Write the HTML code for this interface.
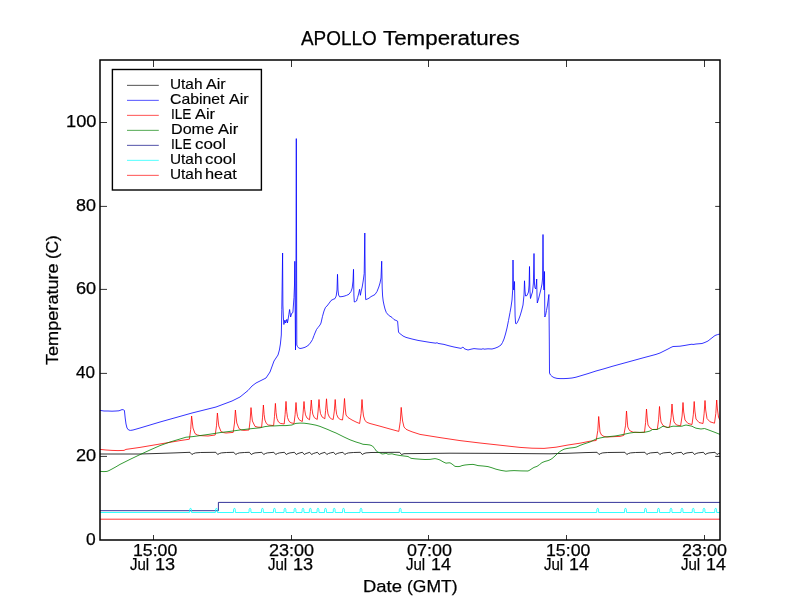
<!DOCTYPE html>
<html lang="en">
<head>
<meta charset="utf-8">
<title>APOLLO Temperatures</title>
<style>
html,body{margin:0;padding:0;background:#fff;}
body{width:800px;height:600px;position:relative;overflow:hidden;font-family:"Liberation Sans",sans-serif;color:#000;}
#txt{position:absolute;left:0;top:0;width:800px;height:600px;will-change:transform;}
.l{position:absolute;left:0;top:0;white-space:pre;line-height:1;margin:0;padding:0;}
.l span{position:absolute;left:0;top:0;white-space:pre;line-height:1;transform-origin:0 0;-webkit-text-stroke:0.25px #000;}
.s span{-webkit-text-stroke:0.15px #000;}
</style>
</head>
<body>
<svg width="800" height="600" viewBox="0 0 800 600" style="position:absolute;left:0;top:0">
<rect x="0" y="0" width="800" height="600" fill="#ffffff"/>
<defs><clipPath id="ax"><rect x="100" y="60" width="620" height="480"/></clipPath></defs>
<g clip-path="url(#ax)" fill="none" stroke-width="0.8" stroke-linejoin="round" stroke-linecap="butt">
<path stroke="#000000" d="M100.0 454.0L140.0 454.0L160.0 453.4L175.0 452.9L190.0 452.3L191.9 454.5L193.6 453.5L195.6 452.9L200.6 452.5L215.8 452.3L217.7 454.5L219.4 453.5L221.4 452.9L226.4 452.5L233.8 452.3L235.7 454.5L237.4 453.5L239.4 452.9L244.4 452.5L249.4 452.3L251.3 454.5L253.0 453.5L255.0 452.9L261.8 452.3L263.7 454.5L265.4 453.5L267.4 452.9L273.8 452.3L275.7 454.5L277.4 453.5L279.4 452.9L284.4 452.3L286.3 454.5L288.0 453.5L290.0 452.9L294.4 452.3L296.3 454.5L298.0 453.5L300.0 452.9L302.4 452.3L304.3 454.5L306.0 453.5L308.0 452.9L309.7 452.3L311.6 454.5L313.3 453.5L315.3 452.9L317.4 452.3L319.3 454.5L321.0 453.5L323.0 452.9L324.9 452.3L326.8 454.5L328.5 453.5L330.5 452.9L333.6 452.3L335.5 454.5L337.2 453.5L339.2 452.9L342.9 452.3L344.8 454.5L346.5 453.5L348.5 452.9L353.5 452.5L360.4 452.3L362.3 454.5L364.0 453.5L366.0 452.9L371.0 452.5L399.6 452.3L401.5 454.5L404.0 453.7L450.0 453.2L500.0 453.4L550.0 453.8L570.0 453.2L585.0 452.6L597.1 452.3L599.0 454.5L600.7 453.5L602.7 452.9L607.7 452.5L624.9 452.3L626.8 454.5L628.5 453.5L630.5 452.9L635.5 452.5L644.9 452.3L646.8 454.5L648.5 453.5L650.5 452.9L657.9 452.3L659.8 454.5L661.5 453.5L663.5 452.9L670.4 452.3L672.3 454.5L674.0 453.5L676.0 452.9L681.4 452.3L683.3 454.5L685.0 453.5L687.0 452.9L692.6 452.3L694.5 454.5L696.2 453.5L698.2 452.9L703.4 452.3L705.3 454.5L707.0 453.5L709.0 452.9L715.1 452.3L717.0 454.5L718.7 453.5L720.0 453.4"/>
<path stroke="#0000ff" d="M100.0 410.4L104.0 411.0L108.0 411.0L112.0 411.2L116.0 411.0L119.0 410.8L122.0 409.6L123.4 409.8L124.4 410.4L125.2 418.0L126.0 424.0L127.0 428.0L128.6 430.0L130.5 430.4L133.0 430.0L140.0 428.0L160.0 422.0L180.0 416.4L192.0 413.0L216.0 407.0L232.0 401.0L240.0 397.0L248.0 390.5L252.0 386.0L256.0 383.0L262.0 380.0L266.0 378.0L270.0 372.0L274.0 361.0L278.0 355.0L279.4 350.0L280.4 344.0L281.3 335.0L281.6 320.0L281.8 309.5L282.6 253.0L282.9 305.0L283.4 318.0L283.9 324.5L284.6 321.0L285.0 320.0L285.5 323.0L286.3 321.0L286.9 319.3L287.4 323.0L288.0 320.0L288.8 314.8L289.6 309.5L290.1 313.0L290.6 317.0L291.2 315.0L291.8 313.2L292.9 312.5L293.5 304.0L294.0 297.5L294.5 285.0L294.8 261.3L295.1 300.0L295.5 350.0L295.9 300.0L296.3 138.6L296.8 345.0L297.5 346.5L298.5 347.8L300.0 348.5L302.0 348.2L305.0 347.3L307.0 346.2L309.0 344.7L311.0 342.0L312.5 339.5L314.0 335.5L315.0 333.0L316.5 329.5L318.0 327.5L320.0 325.0L321.0 323.0L322.5 316.3L324.0 311.0L325.5 307.3L327.0 306.0L328.5 304.0L330.0 302.0L331.0 300.5L333.0 299.4L335.0 298.6L336.2 296.0L337.0 290.0L337.5 274.3L338.0 290.0L338.6 295.0L339.6 296.8L342.0 296.6L344.0 296.2L346.5 295.4L349.0 294.2L351.0 291.5L352.2 288.0L353.0 281.0L353.5 269.3L353.9 295.0L354.3 302.0L355.5 301.6L356.5 301.0L357.6 297.5L358.6 294.0L359.6 289.3L360.4 295.3L361.2 291.0L362.2 287.0L363.2 281.0L364.2 273.5L364.8 233.0L365.3 290.0L365.7 299.6L367.0 299.2L369.0 298.2L371.0 296.6L373.0 295.6L375.0 294.5L377.0 291.5L378.8 287.0L380.0 283.0L381.0 278.0L381.7 261.2L382.2 288.0L382.6 296.0L383.2 301.0L384.0 305.0L385.0 309.0L386.3 312.5L388.5 315.2L390.0 316.2L392.0 317.4L394.0 319.6L396.0 320.4L397.6 321.2L398.0 326.0L398.5 332.0L399.5 333.4L401.0 334.4L403.0 336.0L406.0 337.4L412.0 339.0L418.0 340.4L424.0 341.4L430.0 342.4L436.0 343.2L437.0 342.6L438.0 343.4L444.0 344.4L449.0 345.8L454.0 347.0L458.0 347.8L461.0 348.4L462.2 347.6L463.0 347.0L464.0 348.4L465.0 349.0L468.0 350.0L471.0 349.2L474.0 348.6L478.0 349.0L482.0 349.2L483.0 348.6L484.0 349.2L488.0 348.8L492.0 349.0L495.0 348.2L498.0 347.0L501.0 345.0L502.5 342.5L504.0 339.0L505.5 334.0L507.0 328.0L508.5 320.5L510.0 312.5L511.0 307.0L512.0 300.0L512.7 290.0L513.0 260.0L513.4 288.0L513.8 290.0L514.5 281.5L514.8 300.0L515.1 316.0L515.6 323.5L516.3 323.8L517.0 323.0L518.5 320.0L520.0 316.0L521.5 311.0L523.0 305.0L524.0 295.0L524.5 280.8L525.0 291.0L525.6 296.0L527.0 295.5L528.5 292.0L529.1 285.0L529.5 266.5L529.9 290.0L530.5 298.5L531.5 295.0L532.5 292.0L533.4 283.0L534.0 253.5L534.5 284.0L535.0 288.0L535.8 289.0L536.3 284.0L536.7 279.0L537.0 295.0L537.3 303.0L538.5 299.0L540.0 293.0L541.0 289.0L542.0 284.0L542.6 278.0L543.0 234.5L543.5 284.0L544.0 290.0L544.5 271.5L544.8 317.0L545.5 315.5L546.5 310.5L547.5 305.0L548.3 299.0L548.9 294.5L549.3 340.0L549.5 373.0L550.5 375.0L552.0 376.4L554.0 377.6L557.0 378.4L560.0 378.6L564.0 378.6L568.0 378.4L572.0 378.0L576.0 377.2L580.0 376.0L588.0 373.6L596.0 371.0L604.0 368.8L612.0 366.4L620.0 364.2L628.0 362.0L636.0 359.8L644.0 357.6L650.0 356.0L656.0 354.4L660.0 353.0L664.0 351.0L668.0 349.0L671.0 347.4L673.0 346.5L676.0 346.4L680.0 346.2L685.0 345.4L690.0 344.5L692.0 344.2L693.0 344.5L696.0 344.0L702.0 343.5L705.0 342.4L708.0 341.0L711.0 338.6L715.0 335.5L717.5 334.6L720.0 334.0"/>
<path stroke="#ff0000" d="M100.0 449.4L106.0 450.0L112.0 450.4L118.0 450.6L124.0 450.4L126.0 449.4L140.0 447.4L160.0 444.0L180.0 440.6L189.4 439.2L190.7 429.5L191.6 416.0L192.3 422.0L193.0 428.0L195.0 433.6L197.5 435.0L200.0 435.6L208.0 436.0L215.2 435.0L216.5 425.8L217.4 413.0L218.1 420.0L218.8 426.0L221.0 431.6L223.5 432.6L226.0 433.0L233.2 432.4L234.5 423.0L235.4 410.0L236.1 417.0L236.8 423.0L239.0 428.6L241.5 430.0L244.0 430.4L249.0 430.0L250.1 420.6L251.0 407.6L251.7 415.0L252.4 421.0L255.0 426.4L258.0 427.2L261.6 427.2L262.5 417.9L263.4 405.0L264.1 414.3L264.9 420.0L266.4 423.5L268.4 425.0L273.6 425.6L274.5 416.3L275.4 403.4L276.1 412.7L276.9 418.4L278.4 421.9L280.4 423.4L284.2 424.0L285.1 414.5L286.0 401.4L286.7 411.3L287.5 417.5L289.0 421.3L291.0 422.8L294.0 423.5L295.1 414.7L296.0 402.5L296.7 411.1L297.5 416.4L299.0 419.6L301.0 420.9L302.3 421.5L303.1 413.1L304.0 401.5L304.7 409.7L305.5 414.9L307.0 418.0L309.5 419.8L310.4 411.5L311.3 400.0L312.0 408.8L312.8 414.2L314.3 417.6L316.3 418.9L317.2 419.5L318.1 411.1L319.0 399.5L319.7 408.2L320.5 413.6L322.0 416.9L324.0 418.2L324.8 418.8L325.6 410.4L326.5 398.8L327.2 408.1L328.0 413.9L329.5 417.4L331.5 418.9L333.2 419.5L334.3 411.1L335.2 399.5L335.9 408.7L336.7 414.5L338.2 417.9L340.2 419.4L342.5 420.0L343.6 411.0L344.5 398.5L345.2 408.0L346.0 415.0L348.0 417.5L352.0 420.0L356.0 422.0L359.6 423.5L361.1 413.4L362.0 399.5L362.7 409.0L363.5 416.0L365.0 420.6L367.0 422.4L370.0 423.5L380.0 426.2L390.0 429.0L398.8 431.4L400.3 421.3L401.2 407.4L401.9 415.0L402.6 421.0L404.0 427.0L406.0 429.2L408.0 430.2L412.0 431.8L420.0 434.4L440.0 437.6L460.0 440.6L480.0 443.0L500.0 445.2L520.0 447.4L532.0 448.2L544.0 448.4L556.0 447.2L568.0 445.0L580.0 443.2L590.0 441.2L596.2 440.5L597.8 430.4L598.7 416.5L599.4 425.0L600.0 432.0L601.5 435.0L604.0 436.5L607.0 437.0L615.0 436.6L620.0 436.4L623.8 435.4L625.6 425.2L626.5 411.0L627.2 420.0L627.8 427.0L629.5 430.5L633.0 432.2L640.0 432.5L644.5 432.2L645.6 422.5L646.5 409.0L647.2 418.0L648.0 425.0L650.0 428.0L652.5 429.5L657.3 429.4L658.6 419.8L659.5 406.5L660.2 415.0L661.0 422.0L663.0 425.5L667.0 427.5L669.6 427.2L671.1 417.5L672.0 404.0L672.7 413.0L674.0 422.0L676.5 425.0L680.6 425.8L682.1 416.0L683.0 402.5L683.7 412.0L685.0 420.0L688.0 423.5L692.0 424.5L693.3 414.8L694.2 401.5L694.9 411.0L696.0 419.0L699.0 422.5L703.0 423.5L704.1 413.8L705.0 400.5L705.7 410.0L707.0 418.5L710.0 421.8L714.5 423.2L715.8 413.5L716.7 400.0L717.4 409.0L718.5 417.0L719.7 419.8L720.0 420.0"/>
<path stroke="#008000" d="M100.0 471.4L104.0 471.6L107.0 471.4L109.0 470.6L112.0 469.0L116.0 466.8L120.0 464.4L130.0 459.4L140.0 454.6L150.0 450.0L160.0 445.6L170.0 442.0L180.0 439.0L186.0 437.2L193.0 436.6L200.0 435.6L210.0 434.2L220.0 432.6L230.0 431.4L240.0 430.0L250.0 428.8L260.0 427.8L265.0 426.6L270.0 426.0L275.0 425.9L280.0 425.6L286.0 425.6L292.0 425.0L294.0 424.0L296.0 423.4L300.0 423.1L304.0 423.2L308.0 423.7L312.0 424.4L316.0 425.2L320.0 426.4L324.0 428.0L328.0 429.6L332.0 431.4L336.0 433.0L340.0 435.0L344.0 437.0L350.0 439.8L356.0 442.0L360.0 443.2L363.0 444.3L367.0 444.6L370.0 445.0L372.5 446.0L374.5 448.4L376.5 451.2L378.0 452.2L380.0 452.8L382.0 454.0L384.0 453.8L386.0 453.2L388.0 454.2L390.0 454.0L392.0 453.8L394.0 454.4L396.0 454.8L400.0 455.5L404.0 456.0L408.0 456.5L409.5 457.4L411.0 458.3L415.0 458.8L420.0 459.2L425.0 459.5L430.0 459.4L433.0 458.9L435.0 458.6L437.0 459.0L440.0 460.0L443.0 461.8L446.0 463.2L448.0 462.9L450.0 462.8L452.0 464.0L455.0 466.4L458.0 466.6L460.0 466.4L462.0 465.6L465.0 465.0L469.0 464.6L473.0 464.4L475.0 464.8L478.0 465.6L483.0 466.0L488.0 466.6L492.0 467.8L496.0 469.2L501.0 470.4L506.0 471.2L510.0 470.8L514.0 470.6L521.0 470.9L528.0 471.0L530.0 470.0L532.0 468.6L534.0 467.4L537.0 466.4L539.5 464.6L542.0 462.6L545.0 461.4L548.0 460.6L550.0 459.8L552.0 458.6L555.0 456.0L558.0 453.0L561.0 450.8L564.0 449.2L567.0 448.5L570.0 448.0L573.0 447.7L576.0 447.2L578.0 446.4L580.0 445.4L585.0 443.6L590.0 442.0L596.0 439.0L600.0 438.0L605.0 437.0L610.0 436.5L615.0 436.0L619.0 435.3L623.0 434.5L630.0 433.0L635.0 432.3L640.0 432.4L644.0 432.3L647.0 431.8L650.0 431.0L652.5 429.5L657.0 429.5L660.0 428.0L663.0 426.2L665.5 426.9L668.0 427.5L670.5 426.8L673.0 426.2L677.0 426.3L682.0 426.2L684.0 425.5L686.0 425.0L689.0 425.6L692.0 426.2L694.0 427.3L696.0 428.2L701.0 429.0L704.5 428.5L707.0 429.4L710.0 430.5L715.0 432.4L720.0 434.4"/>
<path stroke="#000080" d="M100.0 510.7L218.4 510.7L218.4 502.4L720.0 502.4"/>
<path stroke="#00ffff" d="M100.0 512.5L189.6 512.5L189.8 509.2L190.2 508.4L190.9 508.4L191.4 509.2L191.6 512.5L215.4 512.5L215.6 509.2L216.1 508.4L216.8 508.4L217.2 509.2L217.4 512.5L233.4 512.5L233.6 509.2L234.1 508.4L234.8 508.4L235.2 509.2L235.4 512.5L249.0 512.5L249.2 509.2L249.7 508.4L250.3 508.4L250.8 509.2L251.0 512.5L261.4 512.5L261.6 509.2L262.0 508.4L262.8 508.4L263.2 509.2L263.4 512.5L273.4 512.5L273.6 509.2L274.0 508.4L274.8 508.4L275.2 509.2L275.4 512.5L284.0 512.5L284.2 509.2L284.6 508.4L285.4 508.4L285.8 509.2L286.0 512.5L294.0 512.5L294.2 509.2L294.6 508.4L295.4 508.4L295.8 509.2L296.0 512.5L302.0 512.5L302.2 509.2L302.6 508.4L303.4 508.4L303.8 509.2L304.0 512.5L309.3 512.5L309.5 509.2L309.9 508.4L310.7 508.4L311.1 509.2L311.3 512.5L317.0 512.5L317.2 509.2L317.6 508.4L318.4 508.4L318.8 509.2L319.0 512.5L324.5 512.5L324.7 509.2L325.1 508.4L325.9 508.4L326.3 509.2L326.5 512.5L333.2 512.5L333.4 509.2L333.8 508.4L334.6 508.4L335.0 509.2L335.2 512.5L342.5 512.5L342.7 509.2L343.1 508.4L343.9 508.4L344.3 509.2L344.5 512.5L360.0 512.5L360.2 509.2L360.6 508.4L361.4 508.4L361.8 509.2L362.0 512.5L399.2 512.5L399.4 509.2L399.8 508.4L400.6 508.4L401.0 509.2L401.2 512.5L596.7 512.5L596.9 509.2L597.4 508.4L598.1 508.4L598.5 509.2L598.7 512.5L624.5 512.5L624.7 509.2L625.1 508.4L625.9 508.4L626.3 509.2L626.5 512.5L644.5 512.5L644.7 509.2L645.1 508.4L645.9 508.4L646.3 509.2L646.5 512.5L657.5 512.5L657.7 509.2L658.1 508.4L658.9 508.4L659.3 509.2L659.5 512.5L670.0 512.5L670.2 509.2L670.6 508.4L671.4 508.4L671.8 509.2L672.0 512.5L681.0 512.5L681.2 509.2L681.6 508.4L682.4 508.4L682.8 509.2L683.0 512.5L692.2 512.5L692.4 509.2L692.9 508.4L693.6 508.4L694.0 509.2L694.2 512.5L703.0 512.5L703.2 509.2L703.6 508.4L704.4 508.4L704.8 509.2L705.0 512.5L714.7 512.5L714.9 509.2L715.4 508.4L716.1 508.4L716.5 509.2L716.7 512.5L720.0 512.5"/>
<path stroke="#ff0000" d="M100.0 519.2L720.0 519.2"/>
</g>
<path d="M153.5 540.0V535.0M153.5 60.0V67.0M291.5 540.0V535.0M291.5 60.0V67.0M428.5 540.0V535.0M428.5 60.0V67.0M566.5 540.0V535.0M566.5 60.0V67.0M704.5 540.0V535.0M704.5 60.0V67.0M100.0 456.4H107.0M720.0 456.4H715.2M100.0 373.4H107.0M720.0 373.4H715.2M100.0 289.4H107.0M720.0 289.4H715.2M100.0 206.4H107.0M720.0 206.4H715.2M100.0 122.5H107.0M720.0 122.5H715.2" stroke="#000" stroke-width="0.8" fill="none"/>
<rect x="100" y="60" width="620" height="480" fill="none" stroke="#000" stroke-width="1.5"/>
<rect x="112.4" y="69.5" width="149" height="120.5" fill="#fff" stroke="#000" stroke-width="1.4"/>
<path d="M127 85.35H158.8" stroke="#000000" stroke-width="0.68" fill="none"/>
<path d="M127 100.35H158.8" stroke="#0000ff" stroke-width="0.68" fill="none"/>
<path d="M127 115.35H158.8" stroke="#ff0000" stroke-width="0.68" fill="none"/>
<path d="M127 130.35H158.8" stroke="#008000" stroke-width="0.68" fill="none"/>
<path d="M127 145.35H158.8" stroke="#000080" stroke-width="0.68" fill="none"/>
<path d="M127 160.35H158.8" stroke="#00ffff" stroke-width="0.68" fill="none"/>
<path d="M127 175.35H158.8" stroke="#ff0000" stroke-width="0.68" fill="none"/>
</svg>
<div id="txt">
<div class="l" id="title" style="font-size:19.60px"><span style="left:301.18px;top:29.20px;transform:scaleX(0.9654)">APOLLO</span> <span style="left:382.93px;top:29.20px;transform:scaleX(1.1406)">Temperatures</span></div>
<div class="l" id="xlabel" style="font-size:16.60px"><span style="left:362.97px;top:578.60px;transform:scaleX(1.1103)">Date</span> <span style="left:406.65px;top:578.60px;transform:scaleX(1.0529)">(GMT)</span></div>
<div class="l s" id="leg0" style="font-size:13.90px"><span style="left:169.85px;top:77.60px;transform:scaleX(1.1068)">Utah</span> <span style="left:205.90px;top:77.60px;transform:scaleX(1.1582)">Air</span></div>
<div class="l s" id="leg1" style="font-size:13.90px"><span style="left:170.45px;top:92.60px;transform:scaleX(1.1362)">Cabinet</span> <span style="left:229.20px;top:92.60px;transform:scaleX(1.1582)">Air</span></div>
<div class="l s" id="leg2" style="font-size:13.90px"><span style="left:170.78px;top:107.60px;transform:scaleX(0.9789)">ILE</span> <span style="left:195.40px;top:107.60px;transform:scaleX(1.1761)">Air</span></div>
<div class="l s" id="leg3" style="font-size:13.90px"><span style="left:170.59px;top:122.60px;transform:scaleX(1.1603)">Dome</span> <span style="left:217.70px;top:122.60px;transform:scaleX(1.1881)">Air</span></div>
<div class="l s" id="leg4" style="font-size:13.90px"><span style="left:170.67px;top:137.60px;transform:scaleX(0.9842)">ILE</span> <span style="left:194.94px;top:137.60px;transform:scaleX(1.2167)">cool</span></div>
<div class="l s" id="leg5" style="font-size:13.90px"><span style="left:169.85px;top:152.60px;transform:scaleX(1.1068)">Utah</span> <span style="left:205.14px;top:152.60px;transform:scaleX(1.2125)">cool</span></div>
<div class="l s" id="leg6" style="font-size:13.90px"><span style="left:169.85px;top:167.60px;transform:scaleX(1.1068)">Utah</span> <span style="left:204.92px;top:167.60px;transform:scaleX(1.1769)">heat</span></div>
<div class="l" id="y0" style="font-size:16.60px"><span style="left:86.14px;top:531.90px;transform:scaleX(1.0500)">0</span></div>
<div class="l" id="y20" style="font-size:16.60px"><span style="left:75.74px;top:448.00px;transform:scaleX(1.0963)">20</span></div>
<div class="l" id="y40" style="font-size:16.60px"><span style="left:76.01px;top:364.80px;transform:scaleX(1.0302)">40</span></div>
<div class="l" id="y60" style="font-size:16.60px"><span style="left:75.74px;top:281.00px;transform:scaleX(1.0963)">60</span></div>
<div class="l" id="y80" style="font-size:16.60px"><span style="left:75.99px;top:197.90px;transform:scaleX(1.0824)">80</span></div>
<div class="l" id="y100" style="font-size:16.60px"><span style="left:66.42px;top:114.00px;transform:scaleX(1.1029)">100</span></div>
<div class="l" id="xa0" style="font-size:16.60px"><span style="left:132.52px;top:543.10px;transform:scaleX(1.0675)">15:00</span></div>
<div class="l" id="xb0" style="font-size:16.60px"><span style="left:129.87px;top:556.50px;transform:scaleX(0.9057)">Jul</span> <span style="left:154.74px;top:556.50px;transform:scaleX(1.0909)">13</span></div>
<div class="l" id="xa1" style="font-size:16.60px"><span style="left:268.80px;top:543.10px;transform:scaleX(1.0875)">23:00</span></div>
<div class="l" id="xb1" style="font-size:16.60px"><span style="left:267.87px;top:556.50px;transform:scaleX(0.9057)">Jul</span> <span style="left:292.74px;top:556.50px;transform:scaleX(1.0909)">13</span></div>
<div class="l" id="xa2" style="font-size:16.60px"><span style="left:407.07px;top:543.10px;transform:scaleX(1.0807)">07:00</span></div>
<div class="l" id="xb2" style="font-size:16.60px"><span style="left:405.87px;top:556.50px;transform:scaleX(0.9057)">Jul</span> <span style="left:430.76px;top:556.50px;transform:scaleX(1.0746)">14</span></div>
<div class="l" id="xa3" style="font-size:16.60px"><span style="left:545.56px;top:543.10px;transform:scaleX(1.0688)">15:00</span></div>
<div class="l" id="xb3" style="font-size:16.60px"><span style="left:543.87px;top:556.50px;transform:scaleX(0.9057)">Jul</span> <span style="left:568.76px;top:556.50px;transform:scaleX(1.0746)">14</span></div>
<div class="l" id="xa4" style="font-size:16.60px"><span style="left:681.90px;top:543.10px;transform:scaleX(1.0813)">23:00</span></div>
<div class="l" id="xb4" style="font-size:16.60px"><span style="left:680.92px;top:556.50px;transform:scaleX(0.9057)">Jul</span> <span style="left:705.81px;top:556.50px;transform:scaleX(1.0746)">14</span></div>
<div class="l" id="ylabel" style="font-size:16.60px"><span style="left:45.30px;top:365.11px;transform:rotate(-90deg) scaleX(1.0913)">Temperature</span> <span style="left:45.30px;top:259.03px;transform:rotate(-90deg) scaleX(1.0286)">(C)</span></div>
</div>
</body>
</html>
